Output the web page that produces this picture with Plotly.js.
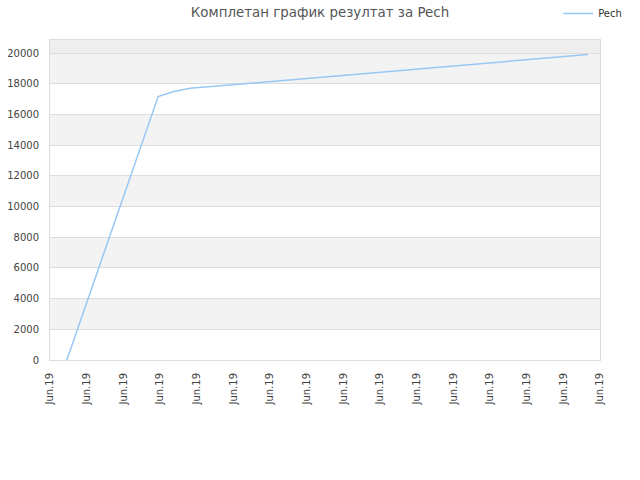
<!DOCTYPE html>
<html>
<head>
<meta charset="utf-8">
<script src="https://cdn.plot.ly/plotly-3.0.1.min.js"></script>
<style>
  html, body { margin: 0; padding: 0; background: #fff; }
  #chart { width: 640px; height: 480px; }
</style>
</head>
<body>
<div id="chart"></div>
<script>
// Tick positions along the x axis and their (identical) labels
const tickPositions = [0, 1, 2, 3, 4, 5, 6, 7, 8, 9, 10, 11, 12, 13, 14, 15];
const tickLabels = tickPositions.map(() => 'Jun.19');

// Series "Pech" (x in tick units)
const pechX = [0.46, 2.95, 3.35, 3.82, 14.67];
const pechY = [0, 17170, 17480, 17700, 19900];

const yTicks = [0, 2000, 4000, 6000, 8000, 10000, 12000, 14000, 16000, 18000, 20000];
const yMax = 20850;

// Alternating horizontal bands behind the line
const shapes = [];
for (let i = 0; i < yTicks.length - 1; i++) {
  if (i % 2 === 1) {
    shapes.push({
      type: 'rect', xref: 'paper', yref: 'y', layer: 'below',
      x0: 0, x1: 1, y0: yTicks[i], y1: yTicks[i + 1],
      fillcolor: '#f3f3f3', line: { width: 0 },
    });
  }
}
shapes.push({
  type: 'rect', xref: 'paper', yref: 'y', layer: 'below',
  x0: 0, x1: 1, y0: yTicks[yTicks.length - 1], y1: yMax,
  fillcolor: '#eeeeee', line: { width: 0 },
});

const traces = [{
  type: 'scatter', mode: 'lines', x: pechX, y: pechY, name: 'Pech',
  line: { color: '#99c7f4', width: 1.5 },
}];

Plotly.newPlot('chart', traces, {
  width: 640, height: 480,
  title: {
    text: 'Комплетан график резултат за Pech',
    font: { family: 'DejaVu Sans, sans-serif', size: 13.4, color: '#555' },
    x: 0.5, xanchor: 'center', y: 0.975, yanchor: 'middle',
  },
  paper_bgcolor: '#fff',
  plot_bgcolor: '#fff',
  font: { family: 'DejaVu Sans, sans-serif', color: '#444', size: 10 },
  margin: { l: 50, r: 40, t: 40, b: 120, autoexpand: false },
  xaxis: {
    range: [0, 15], tickvals: tickPositions, ticktext: tickLabels,
    tickangle: -90, showgrid: false, zeroline: false,
    showline: true, linecolor: '#dddddd', linewidth: 1, mirror: true,
    ticks: '', ticklabelstandoff: 8, tickfont: { size: 10, color: '#444' },
  },
  yaxis: {
    range: [0, yMax], tickvals: yTicks, tickformat: 'd',
    showgrid: true, gridcolor: '#dddddd',
    zeroline: false, showline: true, linecolor: '#dddddd', linewidth: 1, mirror: true,
    ticks: '', ticklabelstandoff: 8, tickfont: { size: 10, color: '#444' },
  },
  shapes,
  showlegend: true,
  legend: {
    x: 0.924, xanchor: 'left', y: 1.083, yanchor: 'middle',
    font: { size: 10, color: '#333' }, bgcolor: 'rgba(0,0,0,0)',
  },
}, { displayModeBar: false, staticPlot: true });
</script>
</body>
</html>
